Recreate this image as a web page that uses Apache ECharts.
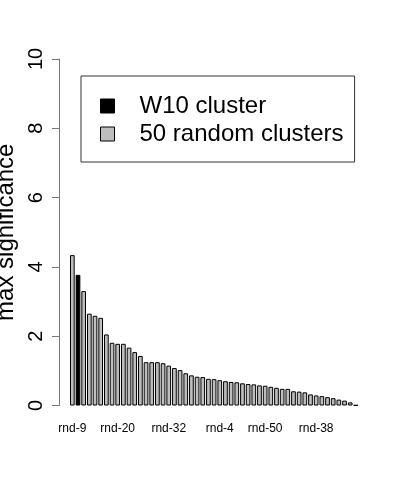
<!DOCTYPE html>
<html><head><meta charset="utf-8">
<script src="https://cdn.jsdelivr.net/npm/echarts@6/dist/echarts.min.js"></script>
<style>html,body{margin:0;padding:0;background:#fff}#c{width:400px;height:480px}</style>
</head><body><div id="c"></div>
<script>
// bar heights, left to right (W10 cluster is index 1)
const values = [4.34, 3.77, 3.30, 2.65, 2.59, 2.53, 2.05, 1.81, 1.78, 1.78,
  1.67, 1.54, 1.43, 1.25, 1.25, 1.25, 1.22, 1.15, 1.08, 1.02,
  0.93, 0.87, 0.83, 0.82, 0.77, 0.76, 0.73, 0.70, 0.68, 0.67,
  0.64, 0.62, 0.61, 0.58, 0.57, 0.54, 0.51, 0.48, 0.48, 0.41,
  0.40, 0.38, 0.32, 0.29, 0.27, 0.24, 0.21, 0.17, 0.14, 0.09, 0.01];
const highlightIndex = 1;
const shownLabelIndex = [0, 8, 17, 26, 34, 43];
const shownLabelText = ['rnd-9', 'rnd-20', 'rnd-32', 'rnd-4', 'rnd-50', 'rnd-38'];
const seriesNames = ['W10 cluster', '50 random clusters'];
const yTicks = [0, 2, 4, 6, 8, 10];
const yTitle = 'max significance';

const categories = values.map((v, i) => {
  const k = shownLabelIndex.indexOf(i);
  return k >= 0 ? shownLabelText[k] : '';
});
const w10Data = values.map((v, i) => i === highlightIndex ? v : '-');
const rndData = values.map((v, i) => i === highlightIndex ? '-' : v);

const FONT = '"Liberation Sans", Arial, Helvetica, sans-serif';
const chart = echarts.init(document.getElementById('c'), null, {renderer: 'canvas'});
chart.setOption({
  animation: false,
  backgroundColor: '#ffffff',
  grid: {left: 69.5, right: 41.3, top: 59, bottom: 74.5, containLabel: false, outerBoundsMode: 'none'},
  legend: {
    orient: 'vertical', left: 81, top: 76,
    selectedMode: false,
    data: seriesNames,
    icon: 'rect', itemWidth: 14, itemHeight: 14, itemGap: 4,
    padding: [18, 11, 16, 19],
    borderColor: '#333', borderWidth: 1,
    textStyle: {fontFamily: FONT, fontSize: 24, color: '#000', padding: [0, 0, 0, 20]},
    itemStyle: {borderColor: '#000', borderWidth: 1}
  },
  xAxis: {
    type: 'category',
    data: categories.map((c, i) => 'c' + i),
    axisLine: {show: false}, axisTick: {show: false},
    axisLabel: {interval: 0, margin: 17, fontFamily: FONT, fontSize: 12, color: '#000',
      formatter: (val, idx) => categories[idx]}
  },
  yAxis: {
    type: 'value', min: yTicks[0], max: yTicks[yTicks.length - 1], interval: 2,
    offset: 10.5,
    name: yTitle, nameLocation: 'middle', nameRotate: 90, nameGap: 35,
    nameTextStyle: {fontFamily: FONT, fontSize: 24, color: '#000'},
    axisLine: {show: true, lineStyle: {color: '#777', width: 1}},
    axisTick: {show: true, length: 7, lineStyle: {color: '#777'}},
    splitLine: {show: false},
    axisLabel: {rotate: 90, margin: 13, fontFamily: FONT, fontSize: 20, color: '#000'}
  },
  series: [
    {name: seriesNames[0], type: 'bar', data: w10Data, barWidth: 4.7, barGap: '-100%',
      itemStyle: {color: '#000000', borderColor: '#000', borderWidth: 1}},
    {name: seriesNames[1], type: 'bar', data: rndData, barWidth: 4.7, barGap: '-100%',
      itemStyle: {color: '#bebebe', borderColor: '#000', borderWidth: 1}}
  ]
});
</script></body></html>
